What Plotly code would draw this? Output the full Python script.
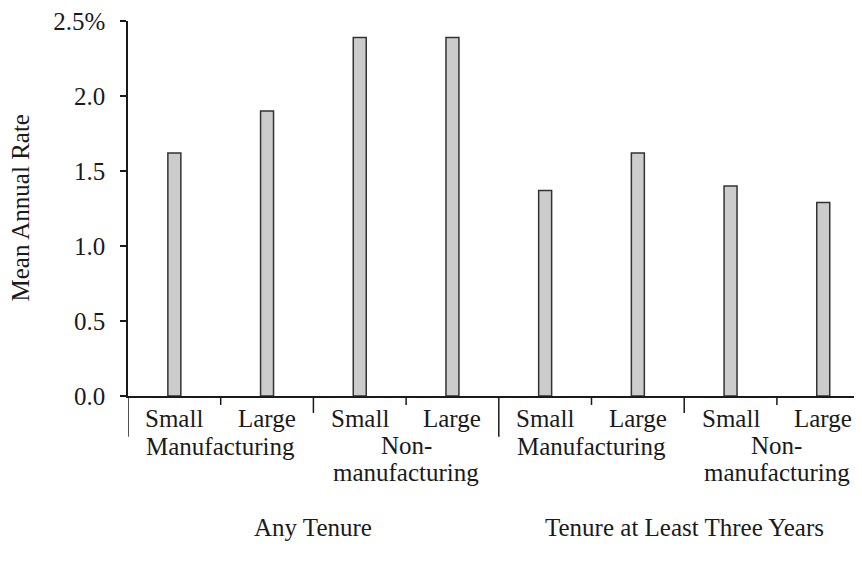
import plotly.graph_objects as go

# ---- data ----
size_labels = ["Small", "Large", "Small", "Large", "Small", "Large", "Small", "Large"]
sector_labels = ["Manufacturing", "Non-\nmanufacturing", "Manufacturing", "Non-\nmanufacturing"]
tenure_labels = ["Any Tenure", "Tenure at Least Three Years"]
values = [1.62, 1.90, 2.39, 2.39, 1.37, 1.62, 1.40, 1.29]
y_tickvals = [0.0, 0.5, 1.0, 1.5, 2.0, 2.5]
y_ticktext = ["0.0", "0.5", "1.0", "1.5", "2.0", "2.5%"]
y_title = "Mean Annual Rate"

# ---- layout constants (pixels, in screen coords) ----
OFF = 8                 # default body margin of the html page
SW, SH = 862, 572
W, H = SW - OFF, SH - OFF
L, T = 128 - OFF, 19 - OFF
B_AX = 396 - OFF        # y pixel of the x axis (figure coords)
PLOT_H = B_AX - T
FONT = "Liberation Serif"
FS = 25
INK = "#1a1a1a"


def py(p):
    """screen pixel y -> paper y"""
    return (B_AX - (p - OFF)) / PLOT_H


n = len(values)
x = list(range(n))
CAT_PX = 92.7
x_end = -0.5 + (W - L) / CAT_PX

fig = go.Figure(go.Bar(
    x=x, y=values, width=0.14,
    marker=dict(color="#cccccc", line=dict(color="#333333", width=1.5)),
))

annotations = []
shapes = []

# level 1 labels
for i, lab in enumerate(size_labels):
    annotations.append(dict(x=i, y=py(419), xref="x", yref="paper", text=lab,
                            showarrow=False, yanchor="middle", xanchor="center",
                            font=dict(family=FONT, size=FS, color=INK)))

# level 2 labels
for g, lab in enumerate(sector_labels):
    cx = 2 * g + 0.5
    lines = lab.split("\n")
    ys = [447] if len(lines) == 1 else [446, 473]
    for ln, yy in zip(lines, ys):
        annotations.append(dict(x=cx, y=py(yy), xref="x", yref="paper", text=ln,
                                showarrow=False, yanchor="middle", xanchor="center",
                                font=dict(family=FONT, size=FS, color=INK)))

# level 3 labels
for g, lab in enumerate(tenure_labels):
    cx = 4 * g + 1.5
    annotations.append(dict(x=cx, y=py(528), xref="x", yref="paper", text=lab,
                            showarrow=False, yanchor="middle", xanchor="center",
                            font=dict(family=FONT, size=FS, color=INK)))

# y title
annotations.append(dict(x=(20 - OFF - L) / (W - L), y=0.5, xref="paper", yref="paper",
                        text=y_title, textangle=-90, showarrow=False,
                        xanchor="center", yanchor="middle",
                        font=dict(family=FONT, size=FS, color=INK)))

# separators
for k in range(n):
    bx = k - 0.5
    if k % 4 == 0:
        depth = 437
    elif k % 2 == 0:
        depth = 413
    else:
        depth = 405
    shapes.append(dict(type="line", xref="x", yref="paper", x0=bx, x1=bx,
                       y0=0, y1=py(depth), line=dict(color=INK, width=1.5)))

fig.update_layout(
    width=W, height=H,
    margin=dict(l=L, r=0, t=T, b=H - B_AX),
    plot_bgcolor="white", paper_bgcolor="white",
    showlegend=False,
    annotations=annotations, shapes=shapes,
    font=dict(family=FONT, size=FS, color=INK),
    xaxis=dict(range=[-0.5, x_end], showticklabels=False, ticks="",
               showline=True, linecolor=INK, linewidth=1.5, showgrid=False,
               zeroline=False, fixedrange=True),
    yaxis=dict(range=[0, 2.5], tickvals=y_tickvals, ticktext=y_ticktext,
               ticks="outside", ticklen=6, tickcolor=INK, tickwidth=1.5,
               ticklabelstandoff=10, ticklabeloverflow="allow",
               showline=True, linecolor=INK, linewidth=1.5, showgrid=False,
               zeroline=False, tickfont=dict(family=FONT, size=FS, color=INK),
               fixedrange=True),
)

fig.write_html("out.html")
